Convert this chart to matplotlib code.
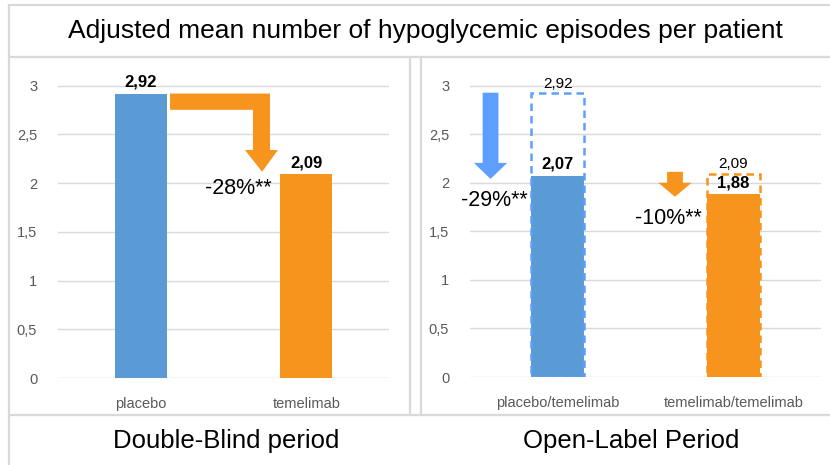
import matplotlib.pyplot as plt
from matplotlib.patches import Polygon
from matplotlib.lines import Line2D

plt.rcParams['font.family'] = ['Liberation Sans', 'DejaVu Sans']

titulo = 'Adjusted mean number of hypoglycemic episodes per patient'
periodos = ['Double-Blind period', 'Open-Label Period']
cat_db = ['placebo', 'temelimab']
val_db = [2.92, 2.09]
cat_ol = ['placebo/temelimab', 'temelimab/temelimab']
val_ol = [2.07, 1.88]
ref_ol = [2.92, 2.09]   # valores do periodo duplo-cego (contorno tracejado)
rotulos_ol = ['-29%**', '-10%**']
rotulo_db = '-28%**'
yticks = [0, 0.5, 1, 1.5, 2, 2.5, 3]
yticklabels = ['0', '0,5', '1', '1,5', '2', '2,5', '3']

azul = '#5B9BD5'
azul_seta = '#5E9EFF'
laranja = '#F7941D'
cinza = '#D9D9D9'
texto_eixo = '#595959'

def virgula(v):
    return ('%.2f' % v).replace('.', ',')

fig = plt.figure(figsize=(8.3, 4.65), dpi=100)
W, H = 830.0, 465.0

# molduras (linhas cinza como no slide)
def linha(x0, y0, x1, y1):
    fig.add_artist(Line2D([x0 / W, x1 / W], [1 - y0 / H, 1 - y1 / H], color=cinza, lw=1.6))

linha(9, 5, 830, 5)
linha(9, 57, 830, 57)
linha(9, 5, 9, 465)
linha(410, 57, 410, 415)
linha(421, 57, 421, 415)
linha(9, 415, 830, 415)

fig.text(425 / W, 1 - 31 / H, titulo, ha='center', va='center', fontsize=19)
fig.text(226 / W, 1 - 441 / H, periodos[0], ha='center', va='center', fontsize=18.5)
fig.text(631 / W, 1 - 441 / H, periodos[1], ha='center', va='center', fontsize=18.5)

def prepara(ax, cats):
    ax.set_xlim(-0.5, 1.5)
    ax.set_ylim(0, 3.1)
    ax.set_yticks(yticks)
    ax.set_yticklabels(yticklabels)
    ax.set_xticks([0, 1])
    ax.set_xticklabels(cats)
    for s in ax.spines.values():
        s.set_visible(False)
    ax.tick_params(length=0, labelsize=10.5, labelcolor=texto_eixo)
    ax.tick_params(axis='y', pad=15)
    ax.tick_params(axis='x', pad=14)
    ax.yaxis.grid(True, color=cinza, lw=1)
    ax.set_axisbelow(True)

# painel esquerdo
ax1 = fig.add_axes([58 / W, (465 - 378) / H, 331 / W, 302 / H])
prepara(ax1, cat_db)
ax1.bar([0, 1], val_db, width=0.315, color=[azul, laranja], zorder=2)
for i, v in enumerate(val_db):
    ax1.annotate(virgula(v), (i, v), xytext=(0, 3), textcoords='offset points',
                 ha='center', va='bottom', fontsize=12, fontweight='bold')
a, b = val_db
seta = [(0.177, a), (0.781, a), (0.781, b + 0.25), (0.829, b + 0.25), (0.733, b + 0.027),
        (0.630, b + 0.25), (0.678, b + 0.25), (0.678, a - 0.167), (0.177, a - 0.167)]
ax1.add_patch(Polygon(seta, closed=True, color=laranja, lw=0, zorder=3))
ax1.text(0.588, b - 0.14, rotulo_db, ha='center', va='center', fontsize=15.5)

# painel direito
ax2 = fig.add_axes([470 / W, (465 - 377) / H, 351 / W, 301 / H])
prepara(ax2, cat_ol)
cores = [azul, laranja]
cores_borda = [azul_seta, laranja]
ax2.bar([0, 1], val_ol, width=0.30, color=cores, zorder=2)
ax2.bar([0, 1], ref_ol, width=0.30, fill=False, edgecolor=cores_borda,
        linestyle=(0, (3, 2)), lw=1.8, zorder=3)
for i in range(2):
    ax2.annotate(virgula(ref_ol[i]), (i, ref_ol[i]), xytext=(0, 2), textcoords='offset points',
                 ha='center', va='bottom', fontsize=11)
    ax2.annotate(virgula(val_ol[i]), (i, val_ol[i]), xytext=(0, 3), textcoords='offset points',
                 ha='center', va='bottom', fontsize=12, fontweight='bold')

# setas verticais
cores_seta = [azul_seta, laranja]
xc = [-0.383, 1 - 0.332]
cabeca = [0.165, 0.145]
for i in range(2):
    x = xc[i]
    topo = ref_ol[i] + (0.008 if i == 0 else 0.023)
    ponta = val_ol[i] - (0.03 if i == 0 else 0.024)
    base = ponta + cabeca[i]
    meia = 0.045
    meia_c = 0.095
    pts = [(x - meia, topo), (x + meia, topo), (x + meia, base), (x + meia_c, base),
           (x, ponta), (x - meia_c, base), (x - meia, base)]
    ax2.add_patch(Polygon(pts, closed=True, color=cores_seta[i], lw=0, zorder=3))
    ax2.text(x + (0.02 if i == 0 else -0.04), ponta - 0.22, rotulos_ol[i],
             ha='center', va='center', fontsize=15.5)

fig.savefig('out.png', dpi=100)
